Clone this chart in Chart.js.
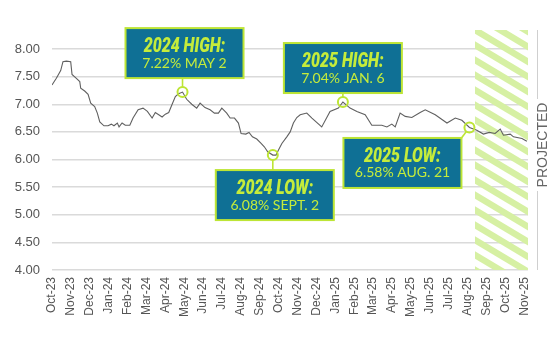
<!DOCTYPE html>
<html>
<head>
<meta charset="utf-8">
<script src="https://cdn.jsdelivr.net/npm/chart.js@4/dist/chart.umd.min.js"></script>
<style>
  html, body { margin: 0; padding: 0; background: #ffffff; }
  #wrap { width: 557px; height: 342px; }
</style>
</head>
<body>
<div id="wrap"><canvas id="rates" width="557" height="342"></canvas></div>
<script>
// Month labels along the bottom axis (one tick per month)
const monthLabels = [
  'Oct-23','Nov-23','Dec-23','Jan-24','Feb-24','Mar-24','Apr-24','May-24','Jun-24',
  'Jul-24','Aug-24','Sep-24','Oct-24','Nov-24','Dec-24','Jan-25','Feb-25','Mar-25',
  'Apr-25','May-25','Jun-25','Jul-25','Aug-25','Sep-25','Oct-25','Nov-25'
];

// Position of each observation, in months after Oct-23
const monthPos = [
  0.00, 0.23, 0.46, 0.58, 0.76, 0.99, 1.06, 1.29, 1.47, 1.52, 1.73, 1.91, 2.05, 2.26,
  2.40, 2.53, 2.75, 2.97, 3.14, 3.28, 3.46, 3.55, 3.71, 3.88, 4.12, 4.29, 4.56, 4.82,
  5.05, 5.30, 5.47, 5.65, 5.83, 6.00, 6.18, 6.36, 6.53, 6.70, 6.91, 7.13, 7.40, 7.66,
  7.84, 8.10, 8.37, 8.60, 8.81, 8.99, 9.25, 9.43, 9.66, 9.87, 10.01, 10.26, 10.43,
  10.61, 10.84, 11.07, 11.24, 11.42, 11.69, 11.86, 11.99, 12.17, 12.43, 12.61, 12.78,
  12.96, 13.14, 13.49, 13.76, 14.28, 14.72, 15.16, 15.40, 15.78, 16.14, 16.58, 16.93,
  17.46, 17.73, 17.99, 18.17, 18.43, 18.70, 19.05, 19.49, 19.76, 20.29, 20.91, 21.35,
  21.70, 22.10, 22.49, 22.84, 23.15, 23.46, 23.73, 23.90, 24.26, 24.43, 24.88, 25.14
];

// 30-year mortgage rate (%) at each observation
const rates = [
  7.35, 7.47, 7.61, 7.77, 7.78, 7.77, 7.54, 7.47, 7.41, 7.29, 7.24, 7.18, 7.02, 6.96,
  6.84, 6.68, 6.61, 6.61, 6.64, 6.61, 6.66, 6.59, 6.66, 6.62, 6.62, 6.75, 6.90, 6.93,
  6.87, 6.75, 6.85, 6.81, 6.77, 6.82, 6.85, 7.00, 7.14, 7.19, 7.22, 7.09, 7.00, 6.93,
  7.02, 6.94, 6.90, 6.84, 6.84, 6.93, 6.84, 6.75, 6.75, 6.66, 6.47, 6.46, 6.49,
  6.41, 6.37, 6.29, 6.23, 6.14, 6.08, 6.08, 6.17, 6.29, 6.41, 6.50, 6.66,
  6.76, 6.81, 6.84, 6.75, 6.59, 6.87, 6.93, 7.04, 6.93, 6.87, 6.81, 6.62,
  6.62, 6.59, 6.64, 6.59, 6.84, 6.78, 6.76, 6.85, 6.90, 6.81, 6.66, 6.75,
  6.71, 6.58, 6.53, 6.46, 6.49, 6.47, 6.55, 6.44, 6.46, 6.41, 6.38, 6.33
];

// Y axis range and step
const yMin = 4.0, yMax = 8.0, yStep = 0.5;

// Where the projected part of the series begins (months after Oct-23)
const projectedFrom = 22.4;

// Called-out highs and lows: index into the series + caption
const calloutIndex = [38, 74, 60, 92];
const calloutTitle = ['2024 HIGH:', '2025 HIGH:', '2024 LOW:', '2025 LOW:'];
const calloutDate  = ['MAY 2', 'JAN. 6', 'SEPT. 2', 'AUG. 21'];

// Box placement relative to its marker (left/top offsets, px)
const boxOffsets = [[-57, -64], [-59, -59], [-57, 15], [-126, 10.5]];

const TEAL = '#0f7095';
const LIME = '#c5ec3b';
const LIME_LINE = '#bde535';
const HATCH = '#d6f0a3';

const points = monthPos.map((m, i) => ({ x: m, y: rates[i] }));

const hatchPlugin = {
  id: 'projectedHatch',
  beforeDatasetsDraw(chart) {
    const { ctx, chartArea, scales } = chart;
    const x0 = scales.x.getPixelForValue(projectedFrom);
    const x1 = chartArea.right;
    const y0 = 30, y1 = chartArea.bottom;
    ctx.save();
    ctx.beginPath();
    ctx.rect(x0, y0, x1 - x0, y1 - y0);
    ctx.clip();
    const slope = 0.6, period = 15;
    ctx.strokeStyle = HATCH;
    ctx.lineWidth = 7.5 * Math.cos(Math.atan(slope));
    const w = x1 - x0;
    for (let k = -Math.ceil(w * slope / period) - 2; k * period < (y1 - y0) + period; k++) {
      const ys = y0 + k * period;
      ctx.beginPath();
      ctx.moveTo(x0 - 5, ys - 5 * slope);
      ctx.lineTo(x1 + 5, ys + (w + 5) * slope);
      ctx.stroke();
    }
    ctx.restore();
  }
};

const calloutPlugin = {
  id: 'callouts',
  afterDatasetsDraw(chart) {
    const { ctx, scales } = chart;
    const r = 5, bw = 118, bh = 50;
    calloutIndex.forEach((idx, n) => {
      const px = scales.x.getPixelForValue(monthPos[idx]);
      const py = scales.y.getPixelForValue(rates[idx]);
      const bx = px + boxOffsets[n][0];
      const by = py + boxOffsets[n][1];

      ctx.save();
      // connector
      ctx.strokeStyle = LIME_LINE;
      ctx.lineWidth = 1.6;
      ctx.beginPath();
      if (by + bh < py) {
        ctx.moveTo(px, by + bh);
        ctx.lineTo(px, py - r);
      } else if (bx + bw > px) {
        ctx.moveTo(px, py + r);
        ctx.lineTo(px, by);
      } else {
        const cx = bx + bw, cy = by;
        const a = Math.atan2(cy - py, cx - px);
        ctx.moveTo(px + r * Math.cos(a), py + r * Math.sin(a));
        ctx.lineTo(cx, cy);
      }
      ctx.stroke();

      // marker ring
      ctx.lineWidth = 2;
      ctx.beginPath();
      ctx.arc(px, py, r, 0, Math.PI * 2);
      ctx.stroke();

      // box
      ctx.fillStyle = TEAL;
      ctx.fillRect(bx, by, bw, bh);
      ctx.lineWidth = 2;
      ctx.strokeRect(bx, by, bw, bh);

      // text
      ctx.fillStyle = LIME;
      ctx.textAlign = 'center';
      ctx.textBaseline = 'middle';
      ctx.save();
      ctx.translate(bx + bw / 2, by + 19);
      ctx.scale(0.82, 1);
      ctx.font = 'italic 900 19.5px Roboto';
      ctx.fillText(calloutTitle[n], 0, 0);
      ctx.restore();
      ctx.font = '14px Lato';
      ctx.fillText(rates[idx].toFixed(2) + '% ' + calloutDate[n], bx + bw / 2, by + 35);
      ctx.restore();
    });
  },
  afterDraw(chart) {
    const { ctx, chartArea } = chart;
    const lx = 537;
    const midY = 145;
    ctx.save();
    ctx.strokeStyle = '#cfcfcf';
    ctx.lineWidth = 1;
    ctx.beginPath();
    ctx.moveTo(lx + 0.5, 30);
    ctx.lineTo(lx + 0.5, midY - 46);
    ctx.moveTo(lx + 0.5, midY + 46);
    ctx.lineTo(lx + 0.5, chartArea.bottom);
    ctx.stroke();
    ctx.translate(lx + 6, midY);
    ctx.rotate(-Math.PI / 2);
    ctx.fillStyle = '#666666';
    ctx.font = '14px "Liberation Sans"';
    ctx.textAlign = 'center';
    ctx.textBaseline = 'middle';
    ctx.fillText('PROJECTED', 0, 0);
    ctx.restore();
  }
};

new Chart(document.getElementById('rates'), {
  type: 'line',
  data: {
    datasets: [{
      data: points,
      borderColor: '#606060',
      borderWidth: 1.1,
      pointRadius: 0,
      tension: 0,
      fill: false
    }]
  },
  options: {
    responsive: false,
    animation: false,
    layout: { padding: { top: 49, right: 29, left: 0, bottom: 0 } },
    plugins: { legend: { display: false }, tooltip: { enabled: false } },
    scales: {
      x: {
        type: 'linear',
        min: 0,
        max: 25.2,
        afterFit(scale) { scale.height = 72; },
        grid: { display: false, drawTicks: false },
        border: { display: false },
        ticks: {
          stepSize: 1,
          includeBounds: false,
          autoSkip: false,
          maxRotation: 90,
          minRotation: 90,
          padding: 7,
          color: '#555555',
          font: { family: '"Liberation Sans", Arial, sans-serif', size: 12 },
          callback: (v) => Number.isInteger(v) ? monthLabels[v] : ''
        }
      },
      y: {
        min: yMin,
        max: yMax,
        afterFit(scale) { scale.width = 52; },
        grid: { color: '#dadada', lineWidth: 1.5, drawTicks: false },
        border: { display: false },
        ticks: {
          stepSize: yStep,
          padding: 12,
          color: '#555555',
          font: { family: '"Liberation Sans", Arial, sans-serif', size: 13 },
          callback: (v) => v.toFixed(2)
        }
      }
    }
  },
  plugins: [hatchPlugin, calloutPlugin]
});
</script>
</body>
</html>
